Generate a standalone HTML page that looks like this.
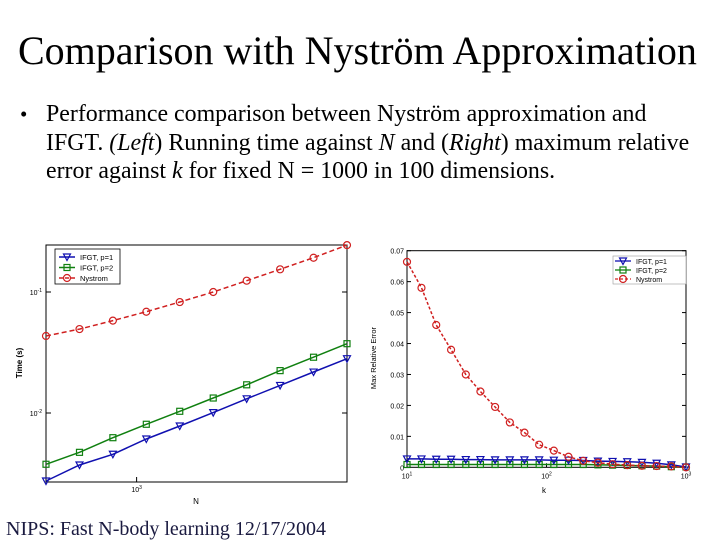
<!DOCTYPE html>
<html><head><meta charset="utf-8"><style>
html,body{margin:0;padding:0;background:#fff}
body{width:720px;height:540px;position:relative;overflow:hidden;font-family:"Liberation Serif",serif}
.t{position:absolute;white-space:nowrap}
svg text{font-family:"Liberation Sans",sans-serif}
</style></head><body>
<div class="t" style="left:18px;top:27px;font-size:40px;color:#000">Comparison with Nyström Approximation</div>
<div class="t" style="left:20px;top:102px;font-size:21px;color:#000">•</div>
<div class="t" style="left:46px;top:100px;font-size:23.9px;line-height:28.5px;color:#000">Performance comparison between Nyström approximation and<br>IFGT. <i>(Left</i>) Running time against <i>N</i> and (<i>Right</i>) maximum relative<br>error against <i>k</i> for fixed N = 1000 in 100 dimensions.</div>
<div class="t" style="left:6px;top:518px;font-size:20px;color:#1a1a40">NIPS: Fast N-body learning 12/17/2004</div>
<svg id="s" width="720" height="540" style="position:absolute;left:0;top:0"></svg>
<script>
// Left chart data
const leftN=[500,646,834,1077,1391,1797,2321,2997,3871,5000];
const leftP1=[0.00274,0.00372,0.00456,0.0061,0.00781,0.01007,0.0131,0.0169,0.0218,0.0281];
const leftP2=[0.00377,0.00473,0.00625,0.00807,0.01033,0.0133,0.0171,0.0224,0.0289,0.0374];
const leftNys=[0.0433,0.0494,0.058,0.0687,0.0826,0.1,0.124,0.154,0.192,0.244];
const leftYTicks=[0.01,0.1];
const leftXTicks=[1000];
// Right chart data
const rightK=[10,12.7,16.2,20.7,26.4,33.6,42.8,54.6,69.5,88.6,112.9,143.8,183.3,233.6,297.6,379.3,483.3,615.8,784.8,1000];
const rightP1=[0.0027,0.0027,0.0026,0.0026,0.0025,0.0025,0.0024,0.0024,0.0024,0.0024,0.0023,0.0023,0.0022,0.002,0.0019,0.0018,0.0016,0.0013,0.0008,0.0001];
const rightP2=[0.0009,0.0009,0.0009,0.0009,0.0009,0.0009,0.0009,0.0009,0.0009,0.0009,0.0009,0.0009,0.0009,0.0008,0.0007,0.0006,0.0005,0.0004,0.0002,0.0001];
const rightNys=[0.0664,0.058,0.046,0.038,0.030,0.0245,0.0195,0.0145,0.0112,0.0073,0.0054,0.0034,0.0021,0.0015,0.001,0.0007,0.0005,0.0004,0.0003,0.0];
const rightYTicks=[0,0.01,0.02,0.03,0.04,0.05,0.06,0.07];
const rightYLabels=["0","0.01","0.02","0.03","0.04","0.05","0.06","0.07"];
const rightXTicks=[10,100,1000];
const rightXExp=["1","2","3"];

const S=document.getElementById('s');const NS='http://www.w3.org/2000/svg';
function mk(tag,a,name){const e=document.createElementNS(NS,tag);for(const k in a)e.setAttribute(k,a[k]);


S.appendChild(e);return e;}
const BLUE='#1010b0',GREEN='#108010',RED='#d02020';
function marker(type,x,y,c,name){
 if(type==='tri')mk('path',{d:`M${x-3.5},${y-3} L${x+3.5},${y-3} L${x},${y+3.5} Z`,fill:'none',stroke:c,'stroke-width':1.2},name);
 else if(type==='sq')mk('rect',{x:x-3,y:y-3,width:6,height:6,fill:'none',stroke:c,'stroke-width':1.2},name);
 else mk('circle',{cx:x,cy:y,r:3.5,fill:'none',stroke:c,'stroke-width':1.2},name);
}
function series(xs,ys,fx,fy,c,type,dash,name){
 const pts=xs.map((v,i)=>fx(v).toFixed(1)+','+fy(ys[i]).toFixed(1)).join(' ');
 const a={points:pts,fill:'none',stroke:c,'stroke-width':1.5};if(dash)a['stroke-dasharray']=dash;
 mk('polyline',a,name+'-line');
 xs.forEach((v,i)=>marker(type,fx(v),fy(ys[i]),c,name+'-point'));
}
// LEFT
const L={x0:46,x1:347,y0:245,y1:482};
const lfx=v=>L.x0+(Math.log10(v)-Math.log10(500))/(Math.log10(5000)-Math.log10(500))*(L.x1-L.x0);
const lfy=v=>292-(Math.log10(v)+1)*121;
mk('rect',{x:L.x0,y:L.y0,width:L.x1-L.x0,height:L.y1-L.y0,fill:'#fff',stroke:'#000','stroke-width':1},'left-plot-area');
leftYTicks.forEach(v=>{const y=lfy(v);
 mk('line',{x1:L.x0,x2:L.x0+5,y1:y,y2:y,stroke:'#000'},'left-y-tick');
 mk('line',{x1:L.x1,x2:L.x1-5,y1:y,y2:y,stroke:'#000'},'left-y-tick');
 const t=mk('text',{x:L.x0-4,y:y+3,'font-size':7,'text-anchor':'end'},'left-y-tick-label');t.innerHTML='10<tspan dy="-3" font-size="5">'+Math.round(Math.log10(v))+'</tspan>';});
leftXTicks.forEach(v=>{const x=lfx(v);
 mk('line',{x1:x,x2:x,y1:L.y1,y2:L.y1-5,stroke:'#000'},'left-x-tick');
 const t=mk('text',{x:x,y:L.y1+10,'font-size':7,'text-anchor':'middle'},'left-x-tick-label');t.innerHTML='10<tspan dy="-3" font-size="5">3</tspan>';});
series(leftN,leftNys,lfx,lfy,RED,'circ','5,3','left-nystrom');
series(leftN,leftP2,lfx,lfy,GREEN,'sq',null,'left-ifgt-p2');
series(leftN,leftP1,lfx,lfy,BLUE,'tri',null,'left-ifgt-p1');
mk('text',{x:196,y:504,'font-size':8,'text-anchor':'middle'},'left-x-axis-title').textContent='N';
mk('text',{x:22,y:363,'font-size':8,'text-anchor':'middle',transform:'rotate(-90 22 363)','font-weight':'bold'},'left-y-axis-title').textContent='Time (s)';
mk('rect',{x:55,y:249,width:65,height:35,fill:'#fff',stroke:'#000','stroke-width':0.8},'left-legend');
[['IFGT, p=1',BLUE,'tri',null],['IFGT, p=2',GREEN,'sq',null],['Nystrom',RED,'circ','4,2']].forEach((d,i)=>{const y=257+i*10.5;
 const a={x1:59,x2:75,y1:y,y2:y,stroke:d[1],'stroke-width':1.5};if(d[3])a['stroke-dasharray']=d[3];mk('line',a,'left-legend-line');
 marker(d[2],67,y,d[1],'left-legend-marker');
 mk('text',{x:80,y:y+3,'font-size':7.5},'left-legend-label').textContent=d[0];});
// RIGHT
const R={x0:407,x1:686,y0:250.7,y1:467.3};
const rfx=v=>R.x0+(Math.log10(v)-1)/2*(R.x1-R.x0);
const rfy=v=>R.y1-v/0.07*(R.y1-R.y0);
mk('rect',{x:R.x0,y:R.y0,width:R.x1-R.x0,height:R.y1-R.y0,fill:'#fff',stroke:'#000','stroke-width':1},'right-plot-area');
rightYTicks.forEach((v,i)=>{const y=rfy(v);
 mk('line',{x1:R.x0,x2:R.x0+4,y1:y,y2:y,stroke:'#000'},'right-y-tick');
 mk('line',{x1:R.x1,x2:R.x1-4,y1:y,y2:y,stroke:'#000'},'right-y-tick');
 mk('text',{x:R.x0-3,y:y+3,'font-size':7,'text-anchor':'end'},'right-y-tick-label').textContent=rightYLabels[i];});
rightXTicks.forEach((v,i)=>{const x=rfx(v);
 mk('line',{x1:x,x2:x,y1:R.y1,y2:R.y1-4,stroke:'#000'},'right-x-tick');
 const t=mk('text',{x:x,y:R.y1+11,'font-size':7,'text-anchor':'middle'},'right-x-tick-label');t.innerHTML='10<tspan dy="-3" font-size="5">'+rightXExp[i]+'</tspan>';});
series(rightK,rightP2,rfx,rfy,GREEN,'sq',null,'right-ifgt-p2');
series(rightK,rightP1,rfx,rfy,BLUE,'tri',null,'right-ifgt-p1');
series(rightK,rightNys,rfx,rfy,RED,'circ','3,2','right-nystrom');
mk('text',{x:544,y:493,'font-size':8,'text-anchor':'middle'},'right-x-axis-title').textContent='k';
mk('text',{x:376,y:358,'font-size':7.5,'text-anchor':'middle',transform:'rotate(-90 376 358)'},'right-y-axis-title').textContent='Max Relative Error';
mk('rect',{x:613,y:256,width:73,height:28,fill:'#fff',stroke:'#999','stroke-width':0.6},'right-legend');
[['IFGT, p=1',BLUE,'tri',null],['IFGT, p=2',GREEN,'sq',null],['Nystrom',RED,'circ','3,2']].forEach((d,i)=>{const y=261+i*9;
 const a={x1:615,x2:631,y1:y,y2:y,stroke:d[1],'stroke-width':1.3};if(d[3])a['stroke-dasharray']=d[3];mk('line',a,'right-legend-line');
 marker(d[2],623,y,d[1],'right-legend-marker');
 mk('text',{x:636,y:y+3,'font-size':7},'right-legend-label').textContent=d[0];});
</script>
</body></html>
